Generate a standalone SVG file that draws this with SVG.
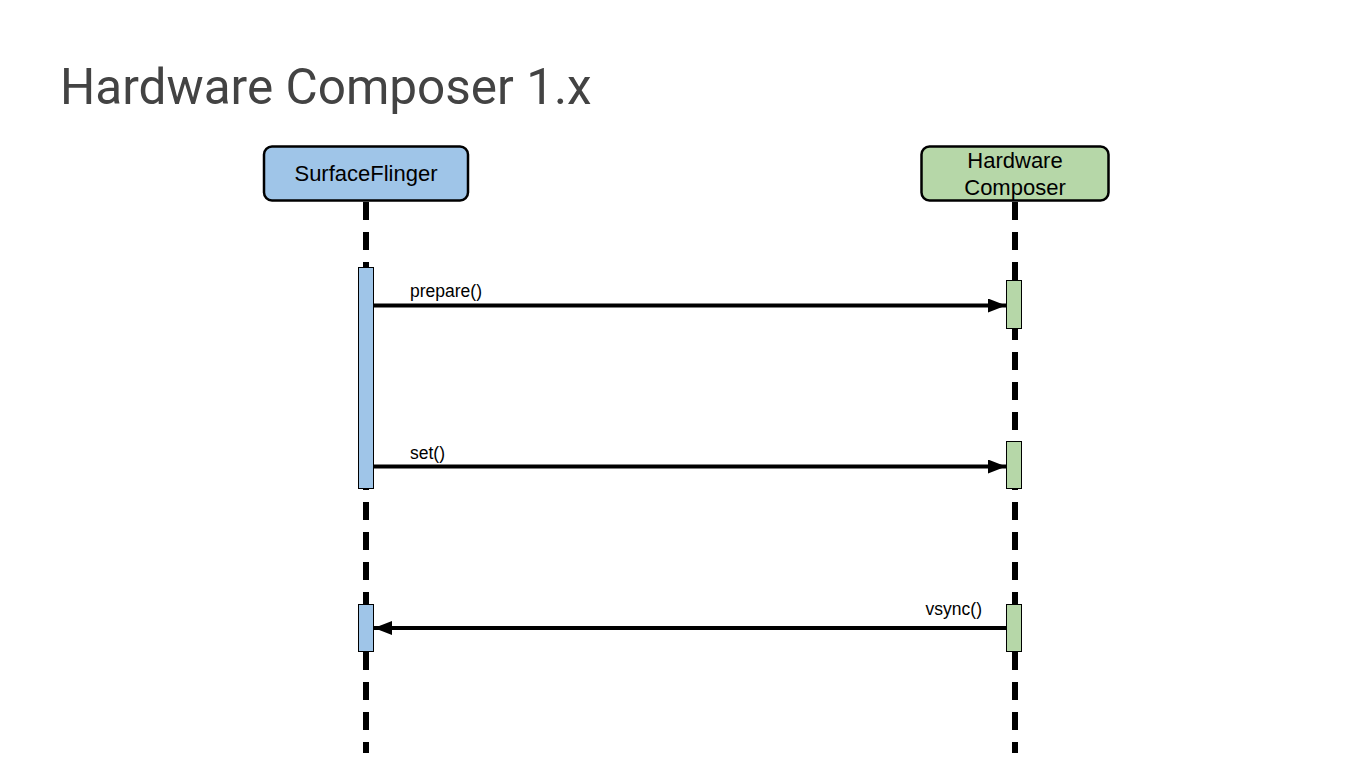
<svg xmlns="http://www.w3.org/2000/svg" width="1372" height="772" viewBox="0 0 1372 772">
<defs>
<style>
.title{font-family:Roboto,"Liberation Sans",sans-serif;font-size:49.5px;fill:#434343}
.box{stroke:#000;stroke-width:2.5}
.sf{fill:#9fc5e8}
.hw{fill:#b6d7a8}
.name{font-family:"Liberation Sans",Arial,sans-serif;font-size:22px;fill:#000;text-anchor:middle}
.life{stroke:#000;stroke-width:6;stroke-dasharray:18 12;fill:none}
.bar{stroke:#000;stroke-width:1}
.msg{stroke:#000;stroke-width:4;fill:none}
.lbl{font-family:"Liberation Sans",Arial,sans-serif;font-size:17.5px;fill:#000}
</style>
<marker id="ah" markerWidth="18" markerHeight="14" refX="18" refY="7" orient="auto" markerUnits="userSpaceOnUse">
<path d="M0,0 L18,7 L0,14 Z" fill="#000"/>
</marker>
</defs>
<rect width="1372" height="772" fill="#fff"/>
<text class="title" x="60" y="104">Hardware Composer 1.x</text>
<g id="lifelines">
<line class="life" x1="366" y1="202" x2="366" y2="753"/>
<line class="life" x1="1015" y1="202" x2="1015" y2="753"/>
</g>
<g id="surfaceflinger">
<rect class="box sf" x="264" y="146.5" width="204" height="54" rx="8"/>
<text class="name" x="366" y="181">SurfaceFlinger</text>
</g>
<g id="hwcomposer">
<rect class="box hw" x="921.5" y="146.5" width="187" height="54" rx="8"/>
<text class="name" x="1015" y="168">Hardware</text>
<text class="name" x="1015" y="195">Composer</text>
</g>
<g id="activations">
<rect class="bar sf" x="358.5" y="267.5" width="15" height="221"/>
<rect class="bar sf" x="358.5" y="604.5" width="15" height="47"/>
<rect class="bar hw" x="1006.5" y="280.5" width="15" height="48"/>
<rect class="bar hw" x="1006.5" y="441.5" width="15" height="47"/>
<rect class="bar hw" x="1006.5" y="604.5" width="15" height="47"/>
</g>
<g id="connectors">
<line class="msg" x1="374" y1="305.5" x2="1006" y2="305.5" marker-end="url(#ah)"/>
<line class="msg" x1="374" y1="466.5" x2="1006" y2="466.5" marker-end="url(#ah)"/>
<line class="msg" x1="1006" y1="628" x2="374" y2="628" marker-end="url(#ah)"/>
<text class="lbl" x="410" y="297">prepare()</text>
<text class="lbl" x="410" y="459">set()</text>
<text class="lbl" x="982" y="615" text-anchor="end">vsync()</text>
</g>
</svg>
